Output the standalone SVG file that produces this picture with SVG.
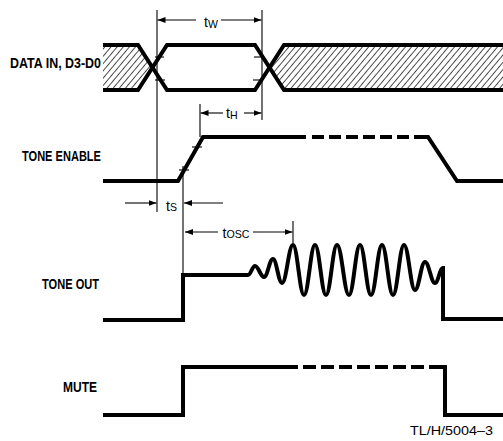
<svg xmlns="http://www.w3.org/2000/svg" width="503" height="441" viewBox="0 0 503 441">
<defs>
<pattern id="hatch" patternUnits="userSpaceOnUse" width="4.7" height="6" patternTransform="rotate(40)">
<line x1="2.35" y1="-1" x2="2.35" y2="7" stroke="#333" stroke-width="0.9"/>
</pattern>
<marker id="ah" markerUnits="userSpaceOnUse" markerWidth="9" markerHeight="6" refX="8" refY="3" orient="auto">
<path d="M0,0 L8,3 L0,6 z" fill="#000"/>
</marker>
<style>
.sig{fill:none;stroke:#000;stroke-width:4;stroke-linejoin:miter;stroke-linecap:butt}
.dash{fill:none;stroke:#000;stroke-width:4;stroke-dasharray:12 5}
.thin{fill:none;stroke:#000;stroke-width:1.1}
.arr{fill:none;stroke:#000;stroke-width:1.1;marker-end:url(#ah)}
.lbl{font-family:"Liberation Sans",Arial,sans-serif;font-weight:bold;font-size:14.5px;fill:#000}
.t{font-family:"Liberation Sans",Arial,sans-serif;font-size:14px;fill:#000}
.ts{font-family:"Liberation Sans",Arial,sans-serif;font-size:10.5px;fill:#000}
.ref{font-family:"Liberation Sans",Arial,sans-serif;font-size:13.5px;fill:#000}
</style>
</defs>
<rect width="503" height="441" fill="#fff"/>

<g id="data-in">
<text class="lbl" x="10" y="68" textLength="91" lengthAdjust="spacingAndGlyphs">DATA IN, D3-D0</text>
<polygon points="103,45 138,45 152.5,67.5 138,90 103,90" fill="url(#hatch)"/>
<polygon points="284,45 503,45 503,90 284,90 269.5,67.5" fill="url(#hatch)"/>
<path class="sig" d="M103,45 H138 L167,90 H255 L284,45 H503"/>
<path class="sig" d="M103,90 H138 L167,45 H255 L284,90 H503"/>
</g>

<g id="tone-enable">
<text class="lbl" x="22" y="161" textLength="79" lengthAdjust="spacingAndGlyphs">TONE ENABLE</text>
<path class="sig" d="M103,181 H178 L203,137 H306"/>
<path class="dash" d="M312,137 H426"/>
<path class="sig" d="M424,137 H428 L457,181 H503"/>
</g>

<g id="tone-out">
<text class="lbl" x="42" y="289" textLength="57" lengthAdjust="spacingAndGlyphs">TONE OUT</text>
<path class="sig" d="M103,320 H183 V275 H248 C250.8,275 252.2,266 255,266 C258.6,266 260.4,277 264,277 C267.6,277 269.4,259 273,259 C276.6,259 278.4,283 282,283 C286.4,283 288.6,245 293,245 C297.4,245 299.6,295 304,295 C308.4,295 310.6,245 315,245 C319.4,245 321.6,295 326,295 C330.4,295 332.6,245 337,245 C341.8,245 344.2,295 349,295 C353.4,295 355.6,245 360,245 C364.4,245 366.6,295 371,295 C375.4,295 377.6,245 382,245 C386.4,245 388.6,295 393,295 C397.4,295 399.6,245 404,245 C408.4,245 410.6,290 415,290 C419,290 421,262 425,262 C429,262 431,283 435,283 C438.2,283 439.8,268 443,268 V319 H503"/>
</g>

<g id="mute">
<text class="lbl" x="63" y="392" textLength="34" lengthAdjust="spacingAndGlyphs">MUTE</text>
<path class="sig" d="M103,415 H183 V367 H298"/>
<path class="dash" d="M303,367 H441" style="stroke-dasharray:13 5"/>
<path class="sig" d="M440,367 H445 V415 H503"/>
</g>

<g id="connectors">
<line class="thin" x1="157" y1="10" x2="157" y2="212"/>
<line class="thin" x1="262" y1="10" x2="262" y2="120"/>
<line class="thin" x1="200" y1="104" x2="200" y2="137"/>
<line class="thin" x1="183" y1="166" x2="183" y2="275"/>
<line class="thin" x1="293" y1="221" x2="293" y2="243"/>
<line class="thin" x1="155" y1="57" x2="164" y2="57"/>
<line class="thin" x1="155" y1="80" x2="165" y2="80"/>
<line class="thin" x1="254" y1="57" x2="263" y2="57"/>
<line class="thin" x1="253" y1="80" x2="263" y2="80"/>
<line class="thin" x1="179" y1="170" x2="189" y2="170"/>
<line class="thin" x1="192" y1="147" x2="202" y2="147"/>
<line class="arr" x1="196" y1="20" x2="157.5" y2="20"/>
<line class="arr" x1="221" y1="20" x2="261.5" y2="20"/>
<line class="arr" x1="223" y1="113" x2="200.5" y2="113"/>
<line class="arr" x1="244" y1="113" x2="261.5" y2="113"/>
<line class="arr" x1="125" y1="203" x2="156.5" y2="203"/>
<line class="arr" x1="223" y1="203" x2="184" y2="203"/>
<line class="arr" x1="218" y1="232" x2="185" y2="232"/>
<line class="arr" x1="253" y1="232" x2="292.5" y2="232"/>
</g>

<g id="labels">
<text class="t" x="204" y="27">t<tspan class="ts" dy="1">W</tspan></text>
<text class="t" x="226" y="118">t<tspan class="ts" dy="1">H</tspan></text>
<text class="t" x="166" y="211">t<tspan class="ts" dy="0">S</tspan></text>
<text class="t" x="222.5" y="238">t<tspan class="ts" textLength="23" lengthAdjust="spacingAndGlyphs">OSC</tspan></text>
<text class="ref" x="410" y="435" textLength="83" lengthAdjust="spacingAndGlyphs">TL/H/5004–3</text>
</g>
</svg>
